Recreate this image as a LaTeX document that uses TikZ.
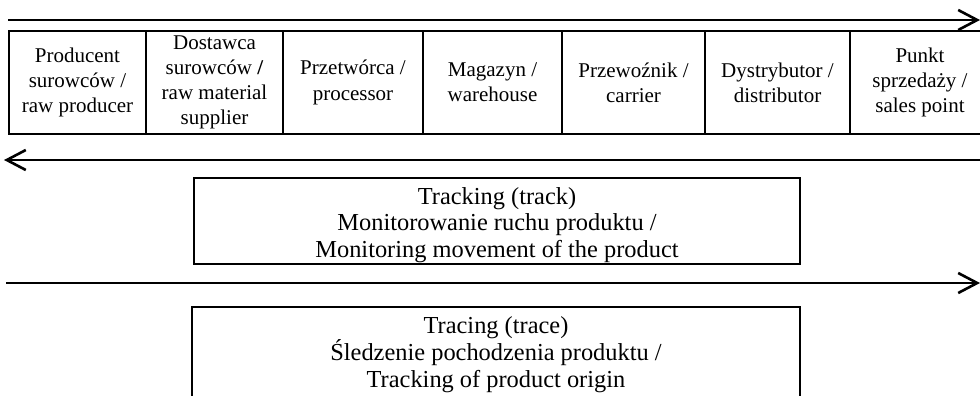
\documentclass[tikz,border=0pt]{standalone}
\usepackage{fontspec}
\setmainfont{Liberation Serif}
\usetikzlibrary{positioning}
\usetikzlibrary{arrows.meta}

\begin{document}
\begin{tikzpicture}[x=0.5pt,y=-0.5pt,
  cell/.style={draw,line width=1.2pt,align=center,inner sep=0pt,outer sep=0pt,
    minimum height=51.5pt,font=\fontsize{10.5}{12.6}\selectfont},
  infobox/.style={draw,line width=1.2pt,inner sep=0pt,outer sep=0pt},
  infotext/.style={align=center,inner sep=0pt,font=\fontsize{12.2}{13.4}\selectfont},
  flow/.style={line width=1.3pt,-{Straight Barb[length=9.5pt,width=10pt]}}]
% Frame
\clip (0,0) rectangle (980,396);

% Supply chain
\node[cell,minimum width=68.5pt,anchor=north west] (prod) at (9,31) {Producent\\surowców /\\raw producer};
\node[cell,minimum width=68.5pt,right=0pt of prod] (supp) {Dostawca\\surowców \textbf{/}\\raw material\\supplier};
\node[cell,minimum width=70pt,right=0pt of supp] (proc) {Przetwórca /\\processor};
\node[cell,minimum width=69.5pt,right=0pt of proc] (ware) {Magazyn /\\warehouse};
\node[cell,minimum width=71.5pt,right=0pt of ware] (carr) {Przewoźnik /\\carrier};
\node[cell,minimum width=72.5pt,right=0pt of carr] (dist) {Dystrybutor /\\distributor};
\node[cell,minimum width=70pt,right=0pt of dist] (sale) {Punkt\\sprzedaży /\\sales point};

% Arrow ends
\coordinate (fwdA) at (8,20);
\coordinate (fwdB) at (980,20);
\coordinate (backA) at (980,160);
\coordinate (backB) at (4,160);
\coordinate (downA) at (6,283);
\coordinate (downB) at (980,283);

% Arrows
\draw[flow] (fwdA) -- (fwdB);
\draw[flow] (backA) -- (backB);
\draw[flow] (downA) -- (downB);

% Tracking and tracing
\node[infobox,minimum width=303pt,minimum height=43pt] (trackbox) at (497,221) {};
\node[infotext,below=4.4pt of trackbox.north] (track) {Tracking (track)\\Monitorowanie ruchu produktu /\\Monitoring movement of the product};
\node[infobox,minimum width=304pt,minimum height=50pt] (tracebox) at (496,357) {};
\node[infotext,below=4.6pt of tracebox.north] (trace) {Tracing (trace)\\Śledzenie pochodzenia produktu /\\Tracking of product origin};
\end{tikzpicture}
\end{document}
